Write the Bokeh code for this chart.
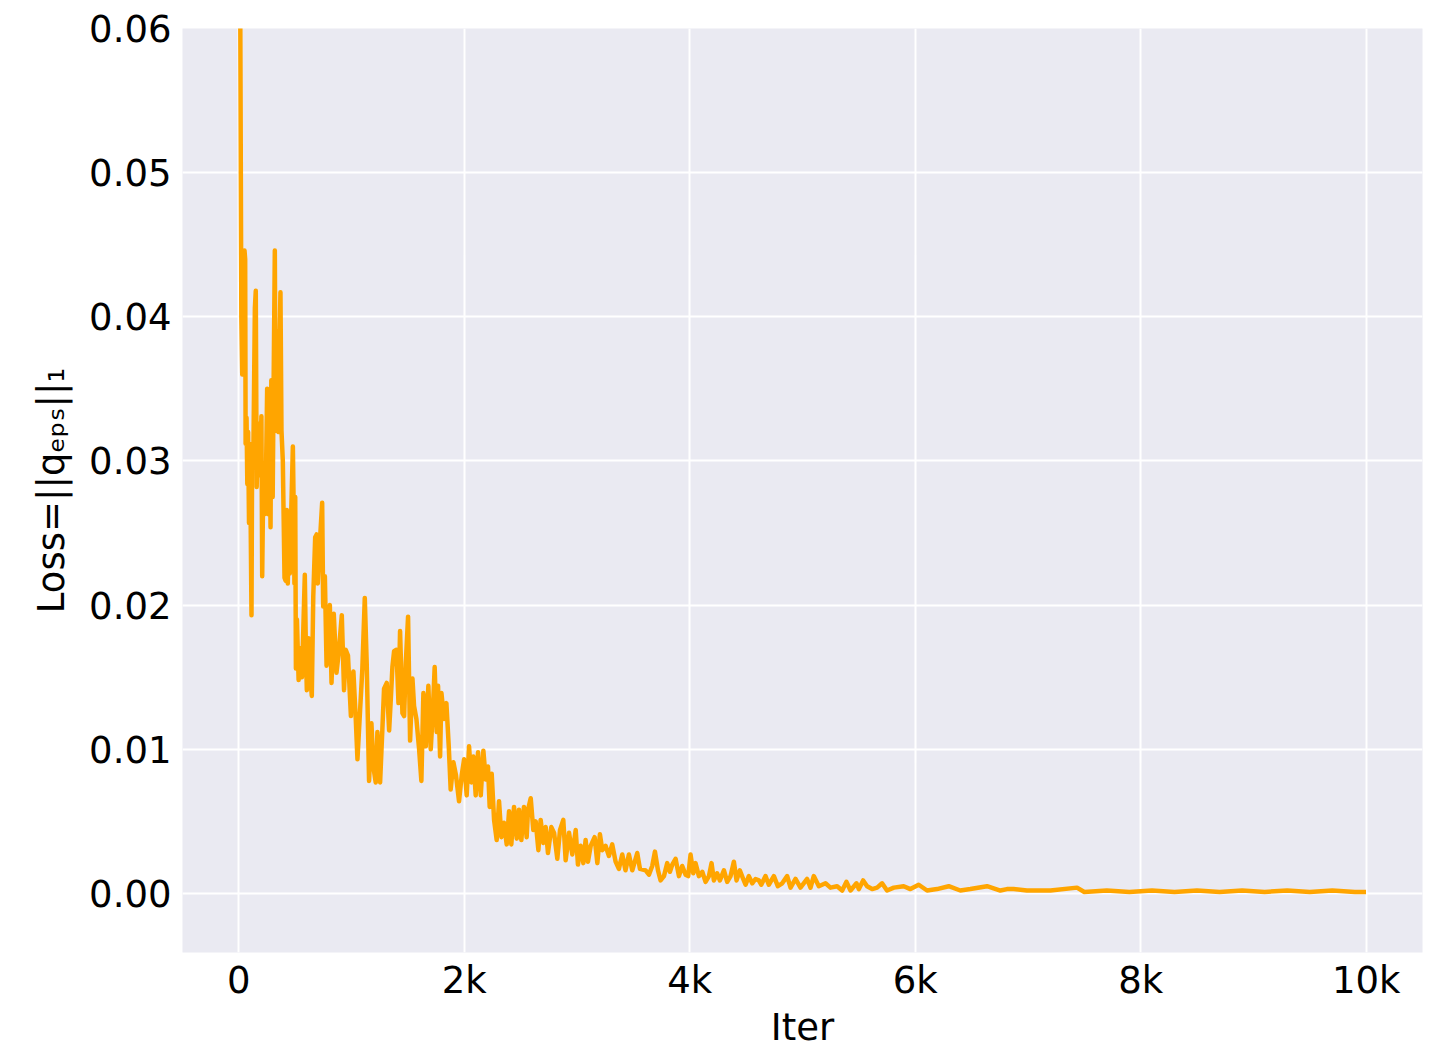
from bokeh.plotting import figure
from bokeh.models import FixedTicker, Range1d
from bokeh.embed import file_html
from bokeh.resources import INLINE

# ---- data (iteration, loss) ----
iters = [
    0, 12, 22, 30, 40, 50, 56, 60, 68, 75, 82, 90, 100, 112, 118, 128, 142, 150, 158, 170,
    185, 200, 207, 218, 230, 242, 251, 262, 272, 281, 288, 300, 308, 319, 326, 335, 345, 352, 360, 369,
    378, 390, 405, 414, 425, 434, 444, 452, 465, 479, 485, 493, 500, 506, 515, 530, 545, 560, 585, 595,
    603, 618, 634, 647, 660, 677, 690, 700, 712, 739, 748, 763, 778, 790, 807, 822, 842, 866, 886, 913,
    933, 948, 968, 994, 1000, 1016, 1037, 1052, 1074, 1095, 1117, 1134, 1155, 1176, 1193, 1214, 1229, 1253, 1273, 1288,
    1312, 1333, 1348, 1362, 1377, 1398, 1416, 1430, 1451, 1466, 1481, 1501, 1519, 1540, 1554, 1575, 1599, 1619, 1637, 1658,
    1681, 1702, 1720, 1737, 1755, 1767, 1785, 1797, 1820, 1841, 1862, 1879, 1903, 1926, 1953, 1977, 1998, 2021, 2042, 2063,
    2080, 2101, 2122, 2146, 2169, 2190, 2210, 2225, 2243, 2264, 2287, 2308, 2329, 2352, 2376, 2397, 2417, 2441, 2465, 2485,
    2506, 2529, 2553, 2565, 2589, 2612, 2633, 2657, 2677, 2701, 2722, 2742, 2772, 2796, 2825, 2849, 2878, 2899, 2929, 2958,
    2988, 3008, 3032, 3056, 3076, 3097, 3121, 3156, 3180, 3203, 3224, 3253, 3283, 3312, 3342, 3371, 3401, 3430, 3460, 3490,
    3534, 3558, 3608, 3638, 3667, 3691, 3718, 3741, 3771, 3800, 3824, 3845, 3874, 3904, 3933, 3963, 3986, 4007, 4031, 4051,
    4081, 4111, 4140, 4170, 4193, 4214, 4243, 4267, 4303, 4332, 4362, 4391, 4415, 4444, 4474, 4495, 4524, 4554, 4583, 4613,
    4634, 4672, 4701, 4746, 4781, 4820, 4864, 4894, 4938, 4982, 5041, 5071, 5100, 5145, 5204, 5248, 5307, 5352, 5390, 5426,
    5479, 5500, 5538, 5573, 5618, 5662, 5706, 5750, 5810, 5898, 5957, 6031, 6105, 6193, 6297, 6400, 6489, 6637, 6755, 6814,
    6873, 6991, 7110, 7200, 7435, 7500, 7700, 7900, 8100, 8300, 8500, 8700, 8900, 9100, 9300, 9500, 9700, 9900, 9999,
]
loss = [
    0.0900, 0.0620, 0.0400, 0.0360, 0.0362, 0.0446, 0.0440, 0.0312, 0.0330, 0.0284, 0.0320, 0.0257, 0.0300, 0.0193, 0.0312, 0.0300, 0.0406, 0.0418, 0.0282, 0.0326,
    0.0290, 0.0331, 0.0220, 0.0298, 0.0263, 0.0299, 0.0350, 0.0263, 0.0320, 0.0254, 0.0356, 0.0275, 0.0350, 0.0446, 0.0321, 0.0365, 0.0390, 0.0320, 0.0380, 0.0417,
    0.0321, 0.0300, 0.0219, 0.0217, 0.0266, 0.0215, 0.0252, 0.0222, 0.0266, 0.0310, 0.0275, 0.0215, 0.0275, 0.0156, 0.0190, 0.0148, 0.0170, 0.0150, 0.0221, 0.0167,
    0.0141, 0.0177, 0.0150, 0.0137, 0.0206, 0.0247, 0.0249, 0.0215, 0.0235, 0.0271, 0.0199, 0.0220, 0.0158, 0.0185, 0.0200, 0.0146, 0.0194, 0.0153, 0.0167, 0.0193,
    0.0141, 0.0169, 0.0165, 0.0123, 0.0146, 0.0154, 0.0121, 0.0093, 0.0125, 0.0155, 0.0205, 0.0160, 0.0078, 0.0118, 0.0088, 0.0077, 0.0112, 0.0077, 0.0114, 0.0142,
    0.0146, 0.0113, 0.0135, 0.0157, 0.0168, 0.0169, 0.0132, 0.0182, 0.0125, 0.0123, 0.0160, 0.0192, 0.0106, 0.0149, 0.0130, 0.0121, 0.0100, 0.0078, 0.0139, 0.0102,
    0.0144, 0.0100, 0.0125, 0.0157, 0.0112, 0.0144, 0.0095, 0.0139, 0.0121, 0.0132, 0.0102, 0.0072, 0.0091, 0.0082, 0.0064, 0.0082, 0.0093, 0.0068, 0.0102, 0.0077,
    0.0095, 0.0068, 0.0098, 0.0068, 0.0099, 0.0079, 0.0088, 0.0060, 0.0083, 0.0051, 0.0037, 0.0064, 0.0039, 0.0049, 0.0034, 0.0057, 0.0034, 0.0060, 0.0038, 0.0058,
    0.0037, 0.0060, 0.0039, 0.0058, 0.0066, 0.0044, 0.0050, 0.0030, 0.0051, 0.0035, 0.0046, 0.0028, 0.0046, 0.0042, 0.0024, 0.0044, 0.0051, 0.0023, 0.0042, 0.0027,
    0.0044, 0.0020, 0.0033, 0.0021, 0.0037, 0.0022, 0.0033, 0.0039, 0.0021, 0.0041, 0.0030, 0.0033, 0.0026, 0.0034, 0.0022, 0.0017, 0.0027, 0.0016, 0.0027, 0.0016,
    0.0028, 0.0017, 0.0016, 0.0013, 0.0019, 0.0029, 0.0016, 0.0009, 0.0012, 0.0021, 0.0015, 0.0020, 0.0024, 0.0012, 0.0019, 0.0013, 0.0012, 0.0027, 0.0014, 0.0021,
    0.0012, 0.0015, 0.0008, 0.0012, 0.0021, 0.0009, 0.0014, 0.0009, 0.0016, 0.0008, 0.0012, 0.0022, 0.0009, 0.0016, 0.0010, 0.0006, 0.0012, 0.0007, 0.0010, 0.0009,
    0.0006, 0.0012, 0.0006, 0.0012, 0.0005, 0.0007, 0.0012, 0.0004, 0.0010, 0.0004, 0.0010, 0.0004, 0.0012, 0.0005, 0.0007, 0.0004, 0.0005, 0.0002, 0.0008, 0.0002,
    0.0007, 0.0003, 0.0009, 0.0005, 0.0003, 0.0004, 0.0007, 0.0002, 0.0004, 0.0005, 0.0003, 0.0006, 0.0002, 0.0003, 0.0005, 0.0002, 0.0003, 0.0005, 0.0002, 0.0003,
    0.0003, 0.0002, 0.0002, 0.0002, 0.0004, 0.0001, 0.0002, 0.0001, 0.0002, 0.0001, 0.0002, 0.0001, 0.0002, 0.0001, 0.0002, 0.0001, 0.0002, 0.0001, 0.0001,
]

x_ticks = [0, 2000, 4000, 6000, 8000, 10000]
x_tick_labels = ["0", "2k", "4k", "6k", "8k", "10k"]
y_ticks = [0.00, 0.01, 0.02, 0.03, 0.04, 0.05, 0.06]
y_tick_labels = ["0.00", "0.01", "0.02", "0.03", "0.04", "0.05", "0.06"]

FONT = "DejaVu Sans"

p = figure(
    width=1432, height=1052,
    x_range=Range1d(-500, 10500), y_range=Range1d(-0.0041, 0.06),
    output_backend="svg", toolbar_location=None,
    min_border_left=182, min_border_right=10, min_border_top=28, min_border_bottom=100,
)
p.background_fill_color = "#EAEAF2"
p.border_fill_color = "white"
p.outline_line_color = None

p.line(iters, loss, line_color="#FFA500", line_width=4.5, line_join="round")

p.xgrid.grid_line_color = "white"
p.ygrid.grid_line_color = "white"
p.xgrid.grid_line_width = 2
p.ygrid.grid_line_width = 2

p.xaxis.ticker = FixedTicker(ticks=x_ticks)
p.xaxis.major_label_overrides = {t: l for t, l in zip(x_ticks, x_tick_labels)}
p.yaxis.ticker = FixedTicker(ticks=y_ticks)
p.yaxis.major_label_overrides = {t: l for t, l in zip(y_ticks, y_tick_labels)}

for ax in (p.xaxis[0], p.yaxis[0]):
    ax.axis_line_color = None
    ax.major_tick_line_color = None
    ax.minor_tick_line_color = None
    ax.major_label_text_font = FONT
    ax.major_label_text_font_size = "37px"
    ax.major_label_text_color = "black"
    ax.axis_label_text_font = FONT
    ax.axis_label_text_font_size = "37px"
    ax.axis_label_text_font_style = "normal"
    ax.axis_label_text_color = "black"

p.xaxis.major_label_standoff = 0
p.xaxis.axis_label_standoff = 1
p.yaxis.major_label_standoff = 5
p.yaxis.axis_label_standoff = 13

p.xaxis.axis_label = "Iter"
p.yaxis.axis_label = "Loss=||q\u2091\u209a\u209b||\u2081"

open("out.html", "w").write(file_html(p, INLINE))
